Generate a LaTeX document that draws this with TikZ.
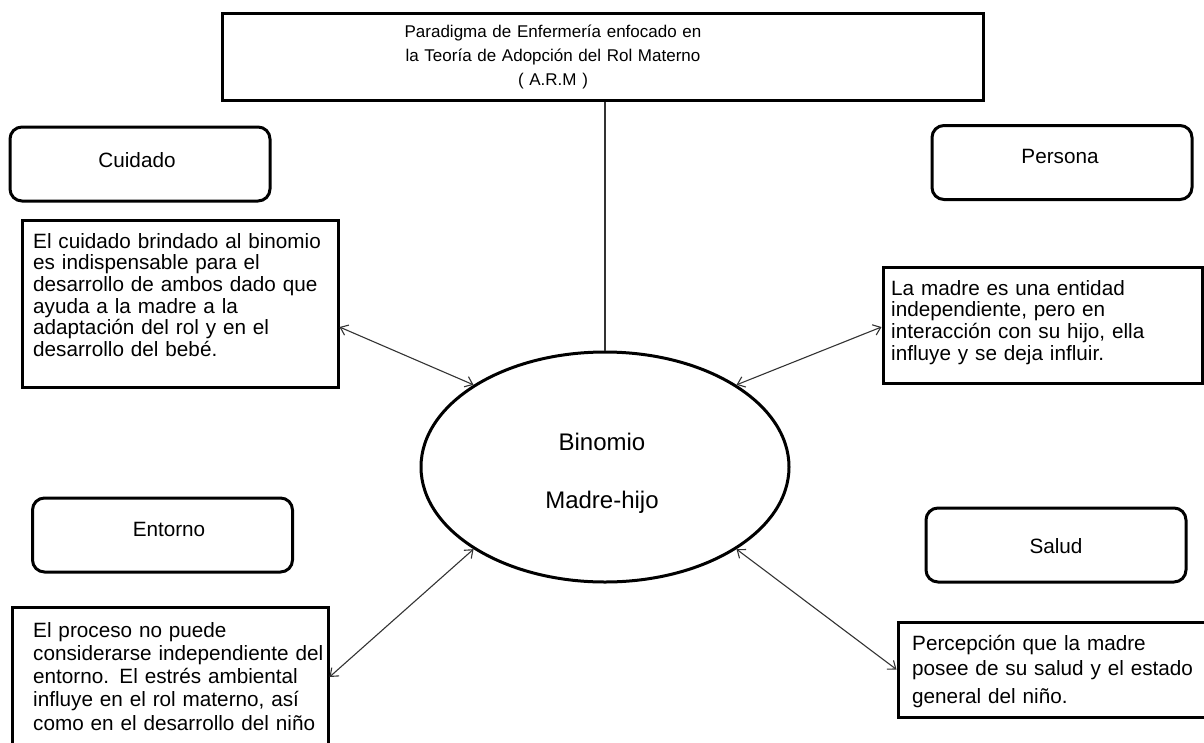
\documentclass[tikz,border=0pt]{standalone}
\usepackage{fontspec}
\setmainfont{Liberation Sans}
\usetikzlibrary{arrows.meta,shapes.geometric}

\begin{document}
\begin{tikzpicture}[x=1pt,y=-1pt,
  frame/.style={draw=black,line width=3pt,fill=white,inner sep=0pt},
  headbox/.style={frame,rectangle,minimum width=761pt,minimum height=87pt},
  tagbox/.style={frame,rectangle,rounded corners=12pt,minimum width=260pt,minimum height=74pt},
  notebox/.style={frame,rectangle},
  hub/.style={frame,ellipse,minimum width=368pt,minimum height=230pt},
  headtext/.style={font=\fontsize{17}{24}\selectfont,text width=340pt,align=center,anchor=base,inner sep=0pt},
  tagtext/.style={font=\fontsize{20.7}{24}\selectfont,anchor=base,inner sep=0pt},
  hubtext/.style={font=\fontsize{24}{58}\selectfont,text width=200pt,align=center,anchor=base,inner sep=0pt},
  notetext/.style={text width=330pt,align=left,anchor=base west,inner sep=0pt},
  link/.style={draw=black!80,line width=1.1pt},
  twoway/.style={link,{Straight Barb[length=7pt,width=11pt]}-{Straight Barb[length=7pt,width=11pt]}}
]
\useasboundingbox (0,0) rectangle (1204,742);
\clip (0,0) rectangle (1204,742);

% heading
\node[headbox] (head) at (602.5,56.5) {};
\node[headtext] (headT) at (553,37)
  {Paradigma de Enfermería enfocado en\\la Teoría de Adopción del Rol Materno\\( A.R.M )};

% central ellipse
\node[hub] (hub) at (605,467) {};
\node[hubtext] (hubT) at (602,450) {Binomio\\Madre-hijo};

\draw[link] (hub.north) -- (hub.north |- head.south);

% the four concept tags
\node[tagbox] (cuid) at (140,164) {};
\node[tagtext] (cuidT) at (137,167) {Cuidado};
\node[tagbox] (pers) at (1062,162.5) {};
\node[tagtext] (persT) at (1060,163) {Persona};
\node[tagbox] (ento) at (162.5,535) {};
\node[tagtext] (entoT) at (169,536) {Entorno};
\node[tagbox] (salu) at (1056,545) {};
\node[tagtext] (saluT) at (1056,553) {Salud};

% descriptive notes
\node[notebox,minimum width=316pt,minimum height=167pt] (cuidD) at (180,303.5) {};
\node[notetext,font=\fontsize{20.7}{21.7}\selectfont] (cuidDT) at (33,248)
  {El cuidado brindado al binomio\\es indispensable para el\\desarrollo de ambos dado que\\ayuda a la madre a la\\adaptación del rol y en el\\desarrollo del bebé.};

\node[notebox,minimum width=319pt,minimum height=116pt] (persD) at (1042.5,325) {};
\node[notetext,font=\fontsize{20.7}{21.7}\selectfont] (persDT) at (891,295)
  {La madre es una entidad\\independiente, pero en\\interacción con su hijo, ella\\influye y se deja influir.};

\node[notebox,minimum width=316pt,minimum height=150pt] (entoD) at (170,682) {};
\node[notetext,font=\fontsize{20.7}{23.3}\selectfont] (entoDT) at (33,637)
  {El proceso no puede\\considerarse independiente del\\entorno. El estrés ambiental\\influye en el rol materno, así\\como en el desarrollo del niño};

\node[notebox,minimum width=312pt,minimum height=95pt] (saluD) at (1054,669.5) {};
\node[notetext,font=\fontsize{20.7}{25}\selectfont] (saluDT) at (912,650)
  {Percepción que la madre\\posee de su salud y el estado\\[3pt]general del niño.};

% two-way links between the notes and the ellipse
\draw[twoway] ([yshift=-23.5pt]cuidD.east) -- (hub.148.3);
\draw[twoway] ([yshift=-2pt]persD.west) -- (hub.32);
\draw[twoway] ([yshift=5pt]entoD.east) -- (hub.212.2);
\draw[twoway] (saluD.west) -- (hub.328.1);
\end{tikzpicture}
\end{document}
